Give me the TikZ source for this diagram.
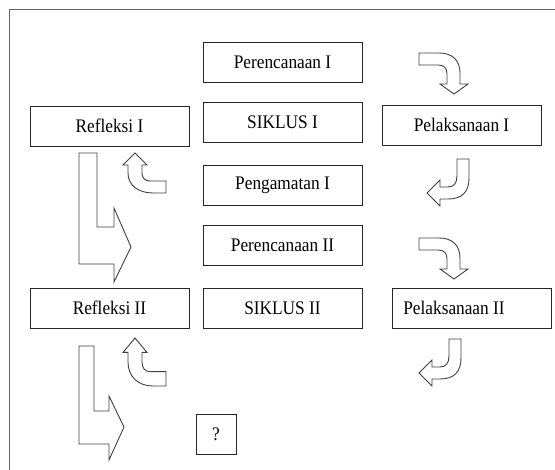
\documentclass[tikz,border=0pt]{standalone}
\usepackage{graphicx}
\usepackage{fontspec}
\setmainfont{Liberation Serif}
\newcommand{\lbl}[1]{\scalebox{0.9}[1]{#1}}
\tikzset{
  box/.style={draw=black!85, line width=0.9pt, minimum width=159pt, minimum height=40pt, inner sep=0pt, font=\fontsize{19.2}{22}\selectfont},
  qbox/.style={box, minimum width=40pt},
  blk/.style={draw=black!75, line width=0.9pt, fill=white, line join=miter},
  frameline/.style={draw=black!60, line width=1pt},
  rdarrow/.pic={\draw[blk] (0,0) -- (14,-10) -- (6,-10) -- (6,-21) .. controls (6,-34) and (-2,-41) .. (-15,-41) -- (-35,-41) -- (-35,-29) -- (-16,-29) .. controls (-10,-29) and (-7,-26) .. (-7,-20) -- (-7,-10) -- (-14,-10) -- cycle;},
  dlarrow/.pic={\draw[blk] (0,0) -- (13,-13) -- (13,-6) -- (21,-6) .. controls (27,-6) and (30,-10) .. (30,-17) -- (30,-34) -- (42,-34) -- (42,-15) .. controls (42,-1) and (35,6) .. (21,6) -- (13,6) -- (13,13) -- cycle;},
  uparrow/.pic={\draw[blk] (0,0) -- (12,12) -- (7,12) -- (7,20) .. controls (7,25) and (10,28) .. (15,28) -- (31,28) -- (31,40) -- (18,40) .. controls (3,40) and (-7,32) .. (-7,20) -- (-7,12) -- (-12,12) -- cycle;}
}
\begin{document}
\begin{tikzpicture}[x=1pt,y=-1pt]
\useasboundingbox (0,0) rectangle (555,470);
\draw[frameline] (9,470) -- (9,10) -- (555,10);

\node[box] (p1) at (282.5,62.5) {\lbl{Perencanaan I}};
\node[box] (s1) at (282.5,122.5) {\lbl{SIKLUS I}};
\node[box] (r1) at (109.5,126) {\lbl{Refleksi I}};
\node[box] (l1) at (461.5,125) {\lbl{Pelaksanaan I}};
\node[box] (g1) at (282.5,185) {\lbl{Pengamatan I}};
\node[box] (p2) at (282.5,245.7) {\lbl{Perencanaan II}};
\node[box] (s2) at (282.5,308.5) {\lbl{SIKLUS II}};
\node[box] (r2) at (109.5,308) {\lbl{Refleksi II}};
\node[box] (l2) at (471.5,308) {\lbl{Pelaksanaan II}\hspace*{35pt}};
\node[qbox] (q) at (216,434) {\lbl{?}};

\pic at (454,94) {rdarrow};
\pic at (454,279) {rdarrow};
\pic at (427,193) {dlarrow};
\pic at (419,373) {dlarrow};
\pic at (135,153) {uparrow};
\pic[yscale=1.2] at (135,338) {uparrow};

\draw[blk] (79,153) -- (97,153) -- (97,227) -- (114,227) -- (114,208) -- (131,247) -- (114,282) -- (114,264) -- (79,264) -- cycle;
\draw[blk] (79,346) -- (94,346) -- (94,411) -- (109,411) -- (109,396) -- (124,427) -- (109,460) -- (109,444) -- (79,444) -- cycle;
\end{tikzpicture}
\end{document}
